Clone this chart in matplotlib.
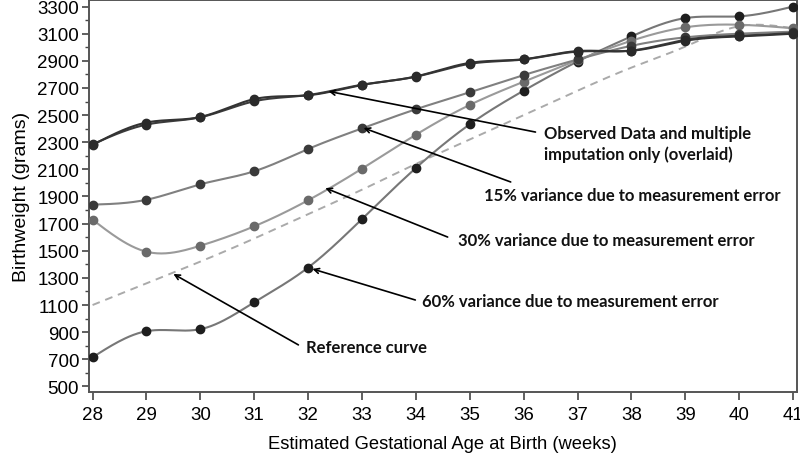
import numpy as np
import matplotlib
matplotlib.use("Agg")
import matplotlib.pyplot as plt
from matplotlib.ticker import MultipleLocator

weeks = [28, 29, 30, 31, 32, 33, 34, 35, 36, 37, 38, 39, 40, 41]
observed = [2280, 2445, 2486, 2618, 2646, 2722, 2785, 2885, 2912, 2972, 2974, 3048, 3080, 3100]
imputed = [2285, 2430, 2484, 2602, 2648, 2724, 2783, 2878, 2910, 2968, 2976, 3055, 3085, 3105]
var15 = [1840, 1876, 1990, 2086, 2250, 2402, 2543, 2668, 2795, 2910, 3011, 3073, 3100, 3115]
var30 = [1729, 1493, 1537, 1680, 1872, 2105, 2355, 2575, 2746, 2905, 3048, 3147, 3166, 3140]
var60 = [715, 907, 922, 1120, 1376, 1734, 2110, 2432, 2680, 2895, 3080, 3215, 3228, 3300]
reference = [1100, 1260, 1420, 1590, 1770, 1950, 2140, 2320, 2500, 2680, 2850, 3005, 3155, 3140]

x_ticks = list(range(28, 42))
y_ticks = list(range(500, 3301, 200))


def smooth(x, y, n=25):
    x = np.asarray(x, float)
    y = np.asarray(y, float)
    m = len(x)
    h = np.diff(x)
    A = np.zeros((m, m))
    b = np.zeros(m)
    A[0, 0] = 1
    A[-1, -1] = 1
    for i in range(1, m - 1):
        A[i, i - 1] = h[i - 1]
        A[i, i] = 2 * (h[i - 1] + h[i])
        A[i, i + 1] = h[i]
        b[i] = 6 * ((y[i + 1] - y[i]) / h[i] - (y[i] - y[i - 1]) / h[i - 1])
    M = np.linalg.solve(A, b)
    xs, ys = [], []
    for i in range(m - 1):
        t = np.linspace(x[i], x[i + 1], n, endpoint=(i == m - 2))
        a = x[i + 1] - t
        c = t - x[i]
        s = (M[i] * a ** 3 + M[i + 1] * c ** 3) / (6 * h[i]) \
            + (y[i] / h[i] - M[i] * h[i] / 6) * a \
            + (y[i + 1] / h[i] - M[i + 1] * h[i] / 6) * c
        xs.append(t)
        ys.append(s)
    return np.concatenate(xs), np.concatenate(ys)


fig = plt.figure(figsize=(8, 4.6), dpi=100)
ax = fig.add_axes([0.111, 0.1457, 0.885, 0.852])

# reference curve
rx, ry = smooth(weeks, reference)
ax.plot(rx, ry, color="#aaaaaa", lw=1.4, ls=(0, (4, 3)), zorder=2)

series = [
    (var60, "#777777", "#1e1e1e"),
    (var30, "#9a9a9a", "#6a6a6a"),
    (var15, "#808080", "#3a3a3a"),
    (imputed, "#3c3c3c", "#2a2a2a"),
    (observed, "#333333", "#2a2a2a"),
]
for vals, lc, mc in series:
    sx, sy = smooth(weeks, vals)
    ax.plot(sx, sy, color=lc, lw=1.5, zorder=3)
    ax.plot(weeks, vals, ls="none", marker="o", ms=6, color=mc, zorder=4)

ax.set_xlim(27.93, 41.07)
ax.set_ylim(459, 3348)
ax.set_xticks(x_ticks)
ax.set_yticks(y_ticks)
ax.yaxis.set_minor_locator(MultipleLocator(100))

tick_font = dict(family="Liberation Sans", size=13.5)
ax.set_xticklabels([str(v) for v in x_ticks], **tick_font)
ax.set_yticklabels([str(v) for v in y_ticks], **tick_font)
ax.tick_params(axis="x", length=6, width=1.2, color="#444444", pad=4)
ax.tick_params(axis="y", which="major", length=5, width=1.2, color="#444444", pad=2)
ax.tick_params(axis="y", which="minor", length=3, width=1.0, color="#444444")
for sp in ax.spines.values():
    sp.set_color("#555555")
    sp.set_linewidth(1.4)

ax.set_xlabel("Estimated Gestational Age at Birth (weeks)", family="Liberation Sans",
              size=13.2, labelpad=9)
ax.set_ylabel("Birthweight (grams)", family="Liberation Sans", size=14, labelpad=5)

ann_font = dict(family="Lato", weight="bold", size=12, color="#111111")
arrow = dict(arrowstyle="->", color="black", lw=1.2, shrinkA=0, shrinkB=0,
             mutation_scale=9)

annots = [
    ((32.38, 2675), (36.22, 2375)),
    ((33.03, 2405), (35.76, 2007)),
    ((32.32, 1962), (34.59, 1601)),
    ((32.08, 1366), (33.99, 1137)),
    ((29.50, 1329), (31.82, 806)),
]
for head, tail in annots:
    ax.annotate("", xy=head, xytext=tail, arrowprops=arrow, zorder=5)

ax.text(36.37, 2367, "Observed Data and multiple", ha="left", va="center", **ann_font)
ax.text(36.37, 2213, "imputation only (overlaid)", ha="left", va="center", **ann_font)
ax.text(35.27, 1911, "15% variance due to measurement error", ha="left", va="center", **ann_font)
ax.text(34.79, 1579, "30% variance due to measurement error", ha="left", va="center", **ann_font)
ax.text(34.12, 1130, "60% variance due to measurement error", ha="left", va="center", **ann_font)
ax.text(31.97, 791, "Reference curve", ha="left", va="center", **ann_font)

fig.savefig("out.png", dpi=100)
